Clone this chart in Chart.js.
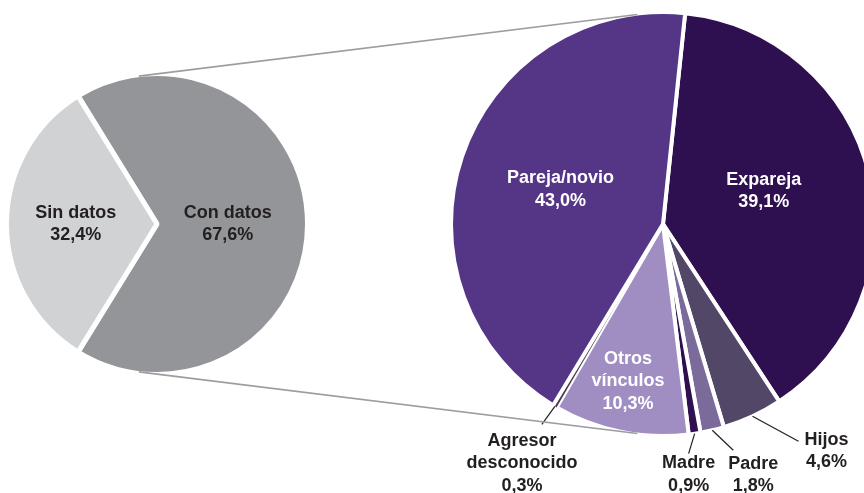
<!DOCTYPE html>
<html lang="es">
<head>
<meta charset="UTF-8">
<title>Vínculo con el agresor</title>
<script src="https://cdn.jsdelivr.net/npm/chart.js@4"></script>
<style>
  html, body { margin: 0; padding: 0; background: #fff; }
  #wrap { position: relative; width: 864px; height: 493px; overflow: hidden; }
  canvas { position: absolute; top: 0; }
  #lines { left: 0; z-index: 2; pointer-events: none; }
  #pieLeft { left: 0; z-index: 1; }
  #pieRight { left: 443px; z-index: 1; }
</style>
</head>
<body>
<div id="wrap">
  <canvas id="lines" width="864" height="493"></canvas>
  <canvas id="pieLeft" width="314" height="448"></canvas>
  <canvas id="pieRight" width="440" height="493"></canvas>
</div>
<script>
// datos: total de casos
const totalNames = [['Con datos'], ['Sin datos']];
const totalValues = [67.6, 32.4];
const totalColors = ['#939598', '#d1d2d4'];

// datos: vínculo con el agresor (sobre "Con datos")
const vinculoNames = [['Expareja'], ['Hijos'], ['Padre'], ['Madre'], ['Otros', 'vínculos'], ['Agresor', 'desconocido'], ['Pareja/novio']];
const vinculoValues = [39.1, 4.6, 1.8, 0.9, 10.3, 0.3, 43.0];
const vinculoColors = ['#2e0f4f', '#524767', '#7a6b9b', '#2e0f50', '#a08ec3', '#4a3852', '#553585'];

const FONT = 'bold 18px "Liberation Sans", Arial, sans-serif';
const LINE_H = 22.5;
const DARK = '#231f20';

const fmt = v => v.toFixed(1).replace('.', ',') + '%';

function drawLines(ctx, lines, x, y, color) {
    ctx.save();
    ctx.font = FONT;
    ctx.fillStyle = color;
    ctx.textAlign = 'center';
    ctx.textBaseline = 'middle';
    const top = y - (lines.length - 1) * LINE_H / 2;
    lines.forEach((t, i) => ctx.fillText(t, x, top + i * LINE_H));
    ctx.restore();
}

// etiquetas dentro / fuera de cada porción
const sliceLabels = {
    id: 'sliceLabels',
    afterDatasetsDraw(chart, args, opts) {
        const ctx = chart.ctx;
        const values = chart.data.datasets[0].data;
        chart.getDatasetMeta(0).data.forEach((arc, i) => {
            const p = arc.getProps(['x', 'y', 'startAngle', 'endAngle', 'outerRadius']);
            const L = opts.layout[i];
            const a = (p.startAngle + p.endAngle) / 2 + (L.da || 0) * Math.PI / 180;
            const r = p.outerRadius * L.f;
            const sx = p.x + Math.cos(a) * r;
            const sy = p.y + Math.sin(a) * r;
            const lines = opts.names[i].concat([fmt(values[i])]);
            if (L.lead) {
                ctx.save();
                ctx.strokeStyle = DARK;
                ctx.lineWidth = 1.2;
                ctx.beginPath();
                ctx.moveTo(sx, sy);
                ctx.lineTo(sx + L.lead[0], sy + L.lead[1]);
                ctx.stroke();
                ctx.restore();
                drawLines(ctx, lines, sx + L.text[0], sy + L.text[1], DARK);
            } else {
                drawLines(ctx, lines, sx, sy, L.color);
            }
        });
    }
};

const leftChart = new Chart(document.getElementById('pieLeft'), {
    type: 'pie',
    data: {
        labels: totalNames.map(n => n.join(' ')),
        datasets: [{
            data: totalValues,
            backgroundColor: totalColors,
            borderColor: '#fff',
            borderWidth: 5
        }]
    },
    options: {
        responsive: false,
        animation: false,
        radius: 150.5,
        rotation: 270 + totalValues[1] * 3.6 / 2,
        events: [],
        plugins: {
            legend: { display: false },
            tooltip: { enabled: false },
            sliceLabels: {
                names: totalNames,
                layout: [
                    { f: 0.47, color: DARK },
                    { f: 0.54, color: DARK }
                ]
            }
        }
    },
    plugins: [sliceLabels]
});

const rightChart = new Chart(document.getElementById('pieRight'), {
    type: 'pie',
    data: {
        labels: vinculoNames.map(n => n.join(' ')),
        datasets: [{
            data: vinculoValues,
            backgroundColor: vinculoColors,
            borderColor: '#fff',
            borderWidth: [4, 4, 4, 4, 4, 0, 4]
        }]
    },
    options: {
        responsive: false,
        animation: false,
        radius: 212,
        rotation: 6,
        layout: { padding: { bottom: 45 } },
        events: [],
        plugins: {
            legend: { display: false },
            tooltip: { enabled: false },
            sliceLabels: {
                names: vinculoNames,
                layout: [
                    { f: 0.5, da: -4.5, color: '#fff' },
                    { f: 1.0, lead: [46, 25], text: [74, 35] },
                    { f: 1.0, lead: [21, 20], text: [41, 45] },
                    { f: 1.0, lead: [-6, 20], text: [-6, 41] },
                    { f: 0.76, da: 1, color: '#fff' },
                    { f: 1.0, lead: [-13, 18], text: [-33, 57] },
                    { f: 0.51, color: '#fff' }
                ]
            }
        }
    },
    plugins: [sliceLabels]
});

// líneas que unen "Con datos" con el desglose (casi tangentes a ambos círculos)
function drawConnectors() {
    const ctx = document.getElementById('lines').getContext('2d');
    const pieL = leftChart.getDatasetMeta(0).data[0];
    const pieR = rightChart.getDatasetMeta(0).data[0];
    const offL = document.getElementById('pieLeft').offsetLeft;
    const offR = document.getElementById('pieRight').offsetLeft;
    const point = (arc, off, deg, inset) => {
        const t = deg * Math.PI / 180;
        const r = arc.outerRadius - inset;
        return [off + arc.x + Math.sin(t) * r, arc.y - Math.cos(t) * r];
    };
    ctx.strokeStyle = '#9d9d9f';
    ctx.lineWidth = 1.6;
    [-7, 187].forEach(deg => {
        const a = point(pieL, offL, deg, 1.5);
        const b = point(pieR, offR, deg, 1);
        ctx.beginPath();
        ctx.moveTo(a[0], a[1]);
        ctx.lineTo(b[0], b[1]);
        ctx.stroke();
    });
}
drawConnectors();
</script>
</body>
</html>
